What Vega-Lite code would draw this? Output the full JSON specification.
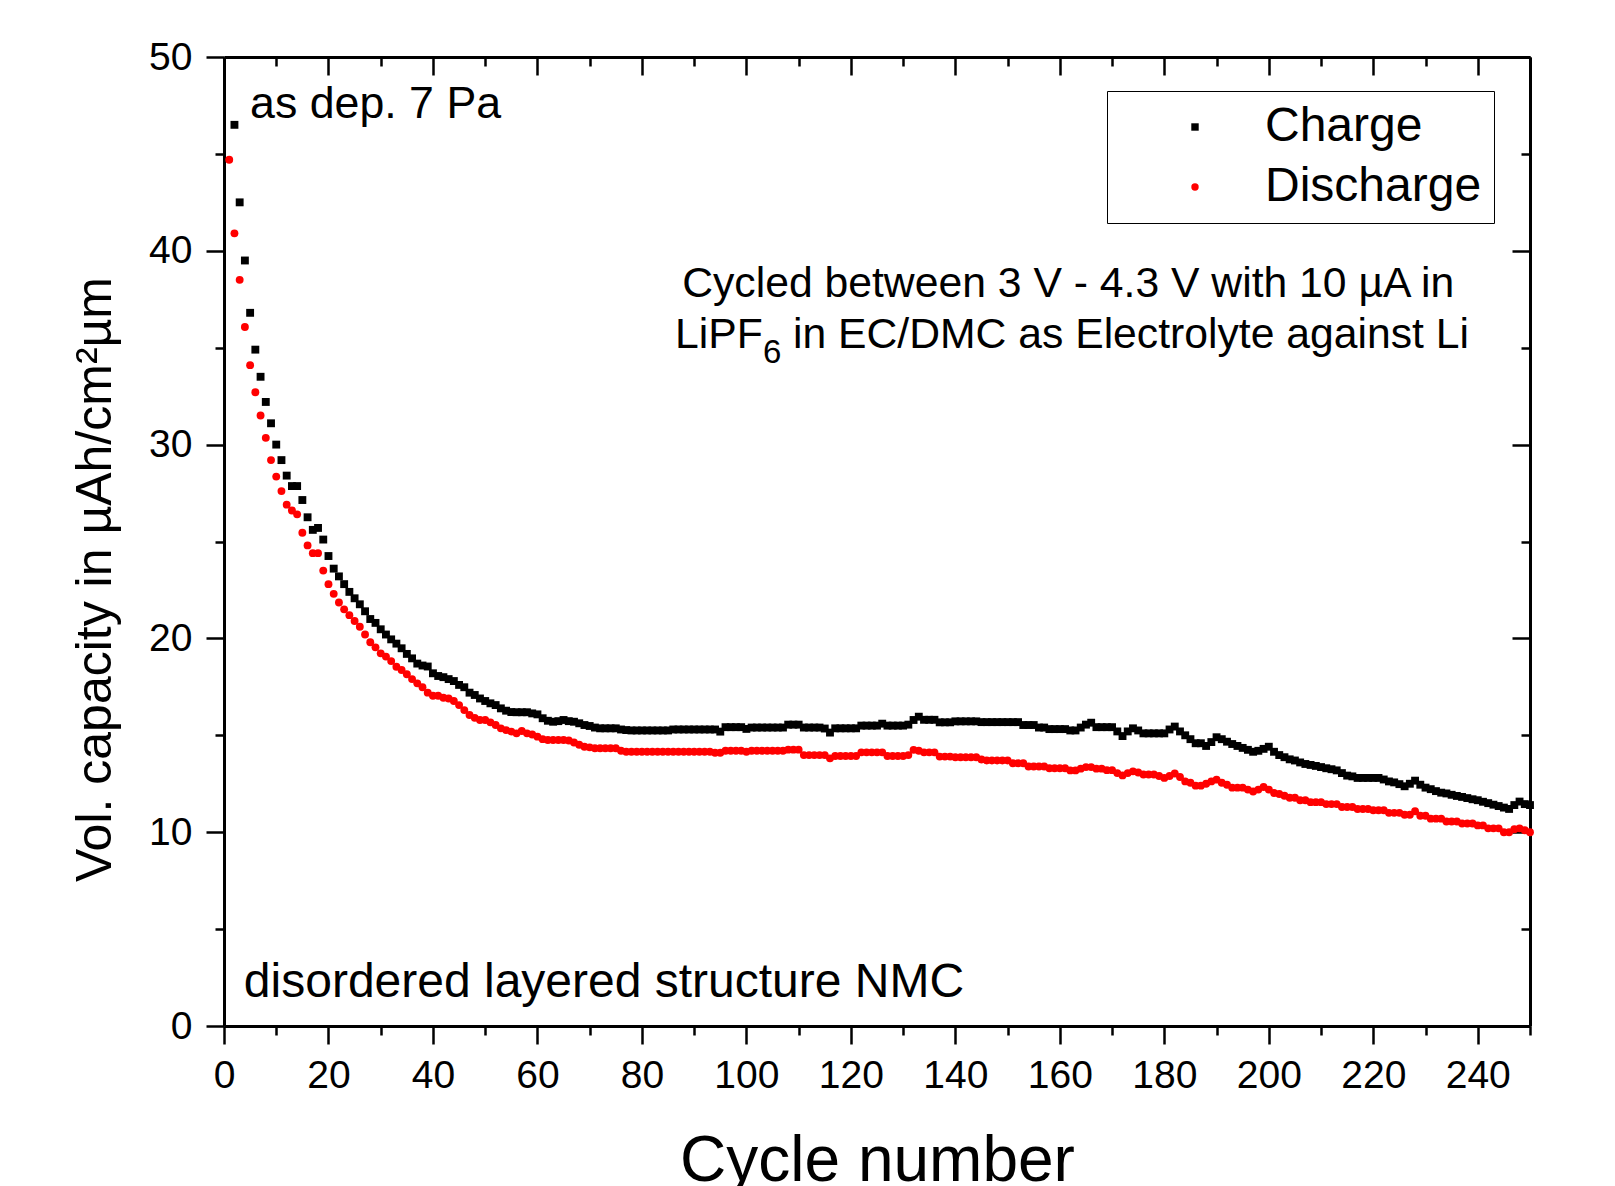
{
"$schema":"https://vega.github.io/schema/vega-lite/v6.json",
"width":1306,"height":969,
"autosize":{"type":"none"},
"padding":{"left":224,"top":57,"right":85,"bottom":160},
"background":"white",
"config":{"view":{"stroke":null},"font":"Liberation Sans","axis":{"grid":false,"labelFont":"Liberation Sans","titleFont":"Liberation Sans"},"text":{"font":"Liberation Sans","color":"black"}},
"data":{"values":[
{"c":1,"Charge":null,"Discharge":44.7},{"c":2,"Charge":46.5,"Discharge":40.9},{"c":3,"Charge":42.5,"Discharge":38.5},{"c":4,"Charge":39.5,"Discharge":36.07},{"c":5,"Charge":36.8,"Discharge":34.1},
{"c":6,"Charge":34.9,"Discharge":32.7},{"c":7,"Charge":33.5,"Discharge":31.5},{"c":8,"Charge":32.2,"Discharge":30.35},{"c":9,"Charge":31.1,"Discharge":29.2},{"c":10,"Charge":30.0,"Discharge":28.35},
{"c":11,"Charge":29.2,"Discharge":27.6},{"c":12,"Charge":28.4,"Discharge":26.9},{"c":13,"Charge":27.86,"Discharge":26.6},{"c":14,"Charge":27.86,"Discharge":26.4},{"c":15,"Charge":27.14,"Discharge":25.45},
{"c":16,"Charge":26.25,"Discharge":24.8},{"c":17,"Charge":25.6,"Discharge":24.4},{"c":18,"Charge":25.7,"Discharge":24.4},{"c":19,"Charge":25.1,"Discharge":23.5},{"c":20,"Charge":24.25,"Discharge":22.8},
{"c":21,"Charge":23.6,"Discharge":22.3},{"c":22,"Charge":23.2,"Discharge":21.85},{"c":23,"Charge":22.8,"Discharge":21.5},{"c":24,"Charge":22.4,"Discharge":21.2},{"c":25,"Charge":22.07,"Discharge":20.9},
{"c":26,"Charge":21.76,"Discharge":20.6},{"c":27,"Charge":21.4,"Discharge":20.2},{"c":28,"Charge":21.0,"Discharge":19.8},{"c":29,"Charge":20.8,"Discharge":19.54},{"c":30,"Charge":20.47,"Discharge":19.23},
{"c":31,"Charge":20.2,"Discharge":19.06},{"c":32,"Charge":19.95,"Discharge":18.83},{"c":33,"Charge":19.73,"Discharge":18.54},{"c":34,"Charge":19.49,"Discharge":18.37},{"c":35,"Charge":19.2,"Discharge":18.15},
{"c":36,"Charge":18.97,"Discharge":17.9},{"c":37,"Charge":18.7,"Discharge":17.68},{"c":38,"Charge":18.6,"Discharge":17.48},{"c":39,"Charge":18.55,"Discharge":17.2},{"c":40,"Charge":18.2,"Discharge":17.04},
{"c":41,"Charge":18.06,"Discharge":17.04},{"c":42,"Charge":18.0,"Discharge":16.94},{"c":43,"Charge":17.9,"Discharge":16.9},{"c":44,"Charge":17.8,"Discharge":16.77},{"c":45,"Charge":17.6,"Discharge":16.56},
{"c":46,"Charge":17.48,"Discharge":16.3},{"c":47,"Charge":17.2,"Discharge":16.05},{"c":48,"Charge":17.08,"Discharge":15.9},{"c":49,"Charge":16.9,"Discharge":15.79},{"c":50,"Charge":16.77,"Discharge":15.79},
{"c":51,"Charge":16.65,"Discharge":15.67},{"c":52,"Charge":16.56,"Discharge":15.53},{"c":53,"Charge":16.39,"Discharge":15.36},{"c":54,"Charge":16.27,"Discharge":15.27},{"c":55,"Charge":16.2,"Discharge":15.19},
{"c":56,"Charge":16.19,"Discharge":15.1},{"c":57,"Charge":16.19,"Discharge":15.22},{"c":58,"Charge":16.19,"Discharge":15.1},{"c":59,"Charge":16.13,"Discharge":15.04},{"c":60,"Charge":16.08,"Discharge":14.93},
{"c":61,"Charge":15.88,"Discharge":14.8},{"c":62,"Charge":15.75,"Discharge":14.76},{"c":63,"Charge":15.7,"Discharge":14.76},{"c":64,"Charge":15.73,"Discharge":14.76},{"c":65,"Charge":15.79,"Discharge":14.76},
{"c":66,"Charge":15.73,"Discharge":14.73},{"c":67,"Charge":15.7,"Discharge":14.63},{"c":68,"Charge":15.62,"Discharge":14.51},{"c":69,"Charge":15.53,"Discharge":14.41},{"c":70,"Charge":15.48,"Discharge":14.38},
{"c":71,"Charge":15.4,"Discharge":14.33},{"c":72,"Charge":15.36,"Discharge":14.33},{"c":73,"Charge":15.36,"Discharge":14.33},{"c":74,"Charge":15.36,"Discharge":14.33},{"c":75,"Charge":15.36,"Discharge":14.33},
{"c":76,"Charge":15.3,"Discharge":14.2},{"c":77,"Charge":15.27,"Discharge":14.15},{"c":78,"Charge":15.25,"Discharge":14.15},{"c":79,"Charge":15.25,"Discharge":14.15},{"c":80,"Charge":15.25,"Discharge":14.15},
{"c":81,"Charge":15.25,"Discharge":14.15},{"c":82,"Charge":15.25,"Discharge":14.15},{"c":83,"Charge":15.25,"Discharge":14.15},{"c":84,"Charge":15.25,"Discharge":14.15},{"c":85,"Charge":15.25,"Discharge":14.15},
{"c":86,"Charge":15.3,"Discharge":14.15},{"c":87,"Charge":15.3,"Discharge":14.15},{"c":88,"Charge":15.3,"Discharge":14.15},{"c":89,"Charge":15.3,"Discharge":14.15},{"c":90,"Charge":15.3,"Discharge":14.15},
{"c":91,"Charge":15.3,"Discharge":14.15},{"c":92,"Charge":15.3,"Discharge":14.15},{"c":93,"Charge":15.3,"Discharge":14.15},{"c":94,"Charge":15.3,"Discharge":14.1},{"c":95,"Charge":15.19,"Discharge":14.1},
{"c":96,"Charge":15.42,"Discharge":14.2},{"c":97,"Charge":15.42,"Discharge":14.2},{"c":98,"Charge":15.42,"Discharge":14.2},{"c":99,"Charge":15.42,"Discharge":14.2},{"c":100,"Charge":15.33,"Discharge":14.15},
{"c":101,"Charge":15.4,"Discharge":14.2},{"c":102,"Charge":15.4,"Discharge":14.2},{"c":103,"Charge":15.4,"Discharge":14.2},{"c":104,"Charge":15.4,"Discharge":14.2},{"c":105,"Charge":15.4,"Discharge":14.2},
{"c":106,"Charge":15.4,"Discharge":14.2},{"c":107,"Charge":15.4,"Discharge":14.2},{"c":108,"Charge":15.55,"Discharge":14.26},{"c":109,"Charge":15.55,"Discharge":14.26},{"c":110,"Charge":15.55,"Discharge":14.26},
{"c":111,"Charge":15.4,"Discharge":13.98},{"c":112,"Charge":15.4,"Discharge":13.98},{"c":113,"Charge":15.4,"Discharge":13.98},{"c":114,"Charge":15.4,"Discharge":13.98},{"c":115,"Charge":15.35,"Discharge":13.98},
{"c":116,"Charge":15.14,"Discharge":13.81},{"c":117,"Charge":15.36,"Discharge":13.93},{"c":118,"Charge":15.36,"Discharge":13.93},{"c":119,"Charge":15.36,"Discharge":13.93},{"c":120,"Charge":15.36,"Discharge":13.93},
{"c":121,"Charge":15.36,"Discharge":13.93},{"c":122,"Charge":15.5,"Discharge":14.12},{"c":123,"Charge":15.5,"Discharge":14.12},{"c":124,"Charge":15.5,"Discharge":14.12},{"c":125,"Charge":15.5,"Discharge":14.12},
{"c":126,"Charge":15.6,"Discharge":14.12},{"c":127,"Charge":15.5,"Discharge":13.93},{"c":128,"Charge":15.5,"Discharge":13.93},{"c":129,"Charge":15.5,"Discharge":13.93},{"c":130,"Charge":15.5,"Discharge":13.93},
{"c":131,"Charge":15.55,"Discharge":13.98},{"c":132,"Charge":15.79,"Discharge":14.25},{"c":133,"Charge":15.96,"Discharge":14.2},{"c":134,"Charge":15.8,"Discharge":14.12},{"c":135,"Charge":15.8,"Discharge":14.12},
{"c":136,"Charge":15.8,"Discharge":14.12},{"c":137,"Charge":15.67,"Discharge":13.9},{"c":138,"Charge":15.67,"Discharge":13.9},{"c":139,"Charge":15.67,"Discharge":13.9},{"c":140,"Charge":15.72,"Discharge":13.87},
{"c":141,"Charge":15.72,"Discharge":13.87},{"c":142,"Charge":15.72,"Discharge":13.87},{"c":143,"Charge":15.72,"Discharge":13.87},{"c":144,"Charge":15.72,"Discharge":13.87},{"c":145,"Charge":15.68,"Discharge":13.75},
{"c":146,"Charge":15.68,"Discharge":13.7},{"c":147,"Charge":15.68,"Discharge":13.7},{"c":148,"Charge":15.68,"Discharge":13.7},{"c":149,"Charge":15.68,"Discharge":13.7},{"c":150,"Charge":15.68,"Discharge":13.7},
{"c":151,"Charge":15.68,"Discharge":13.56},{"c":152,"Charge":15.68,"Discharge":13.56},{"c":153,"Charge":15.53,"Discharge":13.56},{"c":154,"Charge":15.53,"Discharge":13.39},{"c":155,"Charge":15.53,"Discharge":13.39},
{"c":156,"Charge":15.4,"Discharge":13.39},{"c":157,"Charge":15.4,"Discharge":13.39},{"c":158,"Charge":15.32,"Discharge":13.3},{"c":159,"Charge":15.32,"Discharge":13.3},{"c":160,"Charge":15.32,"Discharge":13.3},
{"c":161,"Charge":15.32,"Discharge":13.3},{"c":162,"Charge":15.25,"Discharge":13.19},{"c":163,"Charge":15.25,"Discharge":13.19},{"c":164,"Charge":15.4,"Discharge":13.28},{"c":165,"Charge":15.55,"Discharge":13.36},
{"c":166,"Charge":15.65,"Discharge":13.36},{"c":167,"Charge":15.42,"Discharge":13.28},{"c":168,"Charge":15.42,"Discharge":13.28},{"c":169,"Charge":15.42,"Discharge":13.2},{"c":170,"Charge":15.42,"Discharge":13.2},
{"c":171,"Charge":15.2,"Discharge":13.05},{"c":172,"Charge":14.96,"Discharge":12.93},{"c":173,"Charge":15.2,"Discharge":13.05},{"c":174,"Charge":15.36,"Discharge":13.14},{"c":175,"Charge":15.25,"Discharge":13.08},
{"c":176,"Charge":15.1,"Discharge":12.98},{"c":177,"Charge":15.1,"Discharge":12.98},{"c":178,"Charge":15.1,"Discharge":12.98},{"c":179,"Charge":15.1,"Discharge":12.9},{"c":180,"Charge":15.1,"Discharge":12.8},
{"c":181,"Charge":15.3,"Discharge":12.9},{"c":182,"Charge":15.45,"Discharge":13.03},{"c":183,"Charge":15.2,"Discharge":12.85},{"c":184,"Charge":15.0,"Discharge":12.62},{"c":185,"Charge":14.8,"Discharge":12.55},
{"c":186,"Charge":14.59,"Discharge":12.4},{"c":187,"Charge":14.59,"Discharge":12.4},{"c":188,"Charge":14.45,"Discharge":12.5},{"c":189,"Charge":14.65,"Discharge":12.62},{"c":190,"Charge":14.9,"Discharge":12.71},
{"c":191,"Charge":14.8,"Discharge":12.55},{"c":192,"Charge":14.67,"Discharge":12.45},{"c":193,"Charge":14.55,"Discharge":12.3},{"c":194,"Charge":14.45,"Discharge":12.3},{"c":195,"Charge":14.35,"Discharge":12.3},
{"c":196,"Charge":14.25,"Discharge":12.2},{"c":197,"Charge":14.15,"Discharge":12.1},{"c":198,"Charge":14.2,"Discharge":12.2},{"c":199,"Charge":14.3,"Discharge":12.33},{"c":200,"Charge":14.41,"Discharge":12.2},
{"c":201,"Charge":14.15,"Discharge":12.02},{"c":202,"Charge":13.98,"Discharge":11.97},{"c":203,"Charge":13.87,"Discharge":11.88},{"c":204,"Charge":13.76,"Discharge":11.78},{"c":205,"Charge":13.7,"Discharge":11.78},
{"c":206,"Charge":13.6,"Discharge":11.65},{"c":207,"Charge":13.52,"Discharge":11.65},{"c":208,"Charge":13.47,"Discharge":11.55},{"c":209,"Charge":13.42,"Discharge":11.55},{"c":210,"Charge":13.36,"Discharge":11.55},
{"c":211,"Charge":13.3,"Discharge":11.45},{"c":212,"Charge":13.25,"Discharge":11.45},{"c":213,"Charge":13.19,"Discharge":11.45},{"c":214,"Charge":13.05,"Discharge":11.3},{"c":215,"Charge":12.92,"Discharge":11.3},
{"c":216,"Charge":12.88,"Discharge":11.3},{"c":217,"Charge":12.8,"Discharge":11.2},{"c":218,"Charge":12.8,"Discharge":11.2},{"c":219,"Charge":12.8,"Discharge":11.2},{"c":220,"Charge":12.8,"Discharge":11.13},
{"c":221,"Charge":12.8,"Discharge":11.13},{"c":222,"Charge":12.72,"Discharge":11.13},{"c":223,"Charge":12.62,"Discharge":11.0},{"c":224,"Charge":12.57,"Discharge":11.0},{"c":225,"Charge":12.48,"Discharge":11.0},
{"c":226,"Charge":12.37,"Discharge":10.9},{"c":227,"Charge":12.5,"Discharge":10.9},{"c":228,"Charge":12.66,"Discharge":11.08},{"c":229,"Charge":12.45,"Discharge":10.85},{"c":230,"Charge":12.3,"Discharge":10.85},
{"c":231,"Charge":12.22,"Discharge":10.7},{"c":232,"Charge":12.12,"Discharge":10.7},{"c":233,"Charge":12.04,"Discharge":10.7},{"c":234,"Charge":12.0,"Discharge":10.55},{"c":235,"Charge":11.93,"Discharge":10.55},
{"c":236,"Charge":11.87,"Discharge":10.55},{"c":237,"Charge":11.82,"Discharge":10.45},{"c":238,"Charge":11.76,"Discharge":10.45},{"c":239,"Charge":11.7,"Discharge":10.45},{"c":240,"Charge":11.65,"Discharge":10.35},
{"c":241,"Charge":11.57,"Discharge":10.35},{"c":242,"Charge":11.5,"Discharge":10.2},{"c":243,"Charge":11.42,"Discharge":10.2},{"c":244,"Charge":11.35,"Discharge":10.2},{"c":245,"Charge":11.27,"Discharge":10.0},
{"c":246,"Charge":11.2,"Discharge":10.0},{"c":247,"Charge":11.4,"Discharge":10.15},{"c":248,"Charge":11.58,"Discharge":10.2},{"c":249,"Charge":11.45,"Discharge":10.1},{"c":250,"Charge":11.4,"Discharge":10.0}
]},
"resolve":{"axis":{"x":"independent","y":"independent"}},
"layer":[
{"transform":[{"fold":["Charge","Discharge"],"as":["series","value"]},{"filter":"isValid(datum.value)"}],
 "mark":{"type":"point","filled":true,"size":62,"opacity":1},
 "encoding":{
  "x":{"field":"c","type":"quantitative","scale":{"domain":[0,250],"nice":false,"zero":false},
   "axis":{"orient":"bottom","values":[0,10,20,30,40,50,60,70,80,90,100,110,120,130,140,150,160,170,180,190,200,210,220,230,240,250],
    "labelExpr":"datum.value % 20 === 0 ? datum.label : ''","labelOverlap":false,"labelFlush":false,"labelBound":false,
    "tickSize":{"condition":{"test":"datum.value % 20 === 0","value":18},"value":9},"tickWidth":2.5,"tickColor":"black",
    "domainColor":"black","domainWidth":3,"labelFontSize":39,"labelColor":"black","labelPadding":12,
    "title":"Cycle number","titleFontSize":64,"titleFontWeight":"normal","titleColor":"black","titleX":653,"titleY":154,"titleBaseline":"alphabetic","titleAlign":"center","titleAnchor":null}},
  "y":{"field":"value","type":"quantitative","scale":{"domain":[0,50],"nice":false},
   "axis":{"orient":"left","values":[0,5,10,15,20,25,30,35,40,45,50],
    "labelExpr":"datum.value % 10 === 0 ? datum.label : ''","labelOverlap":false,"labelFlush":false,"labelBound":false,
    "tickSize":{"condition":{"test":"datum.value % 10 === 0","value":18},"value":9},"tickWidth":2.5,"tickColor":"black",
    "domainColor":"black","domainWidth":3,"labelFontSize":39,"labelColor":"black","labelPadding":14,
    "title":"Vol. capacity in µAh/cm²µm","titleFontSize":50,"titleFontWeight":"normal","titleColor":"black","titleAngle":-90,"titleX":-114,"titleY":522,"titleBaseline":"alphabetic","titleAlign":"center","titleAnchor":null}},
  "color":{"field":"series","type":"nominal","scale":{"domain":["Charge","Discharge"],"range":["#000000","#ff0000"]},
   "legend":{"orient":"none","legendX":883,"legendY":34,"title":null,"strokeColor":"black","fillColor":"white","padding":12,"labelFontSize":48,"labelColor":"black","labelFont":"Liberation Sans","labelLimit":0,"symbolSize":55,"symbolOffset":52,"labelOffset":46,"rowPadding":12,"symbolStrokeWidth":0}},
  "shape":{"field":"series","type":"nominal","scale":{"domain":["Charge","Discharge"],"range":["square","circle"]}}
 }},
{"transform":[{"fold":["Charge","Discharge"],"as":["series","value"]},{"filter":"isValid(datum.value)"}],
 "mark":{"type":"point","opacity":0},
 "encoding":{
  "x":{"field":"c","type":"quantitative",
   "axis":{"orient":"top","values":[0,10,20,30,40,50,60,70,80,90,100,110,120,130,140,150,160,170,180,190,200,210,220,230,240,250],"labels":false,"title":null,
    "tickSize":{"condition":{"test":"datum.value % 20 === 0","value":-18},"value":-9},"tickWidth":2.5,"tickColor":"black","domainColor":"black","domainWidth":3}},
  "y":{"field":"value","type":"quantitative",
   "axis":{"orient":"right","values":[0,5,10,15,20,25,30,35,40,45,50],"labels":false,"title":null,
    "tickSize":{"condition":{"test":"datum.value % 10 === 0","value":-18},"value":-9},"tickWidth":2.5,"tickColor":"black","domainColor":"black","domainWidth":3}}
 }},
{"data":{"values":[{}]},"mark":{"type":"text","text":"as dep. 7 Pa","align":"left","baseline":"alphabetic","fontSize":44.7},
 "encoding":{"x":{"datum":5,"type":"quantitative","axis":null},"y":{"datum":46.85,"type":"quantitative","axis":null}}},
{"data":{"values":[{}]},"mark":{"type":"text","text":"disordered layered structure NMC","align":"left","baseline":"alphabetic","fontSize":48},
 "encoding":{"x":{"datum":3.8,"type":"quantitative","axis":null},"y":{"datum":1.5,"type":"quantitative","axis":null}}},
{"data":{"values":[{}]},"mark":{"type":"text","text":"Cycled between 3 V - 4.3 V with 10 µA in","align":"center","baseline":"alphabetic","fontSize":42.7},
 "encoding":{"x":{"datum":161.6,"type":"quantitative","axis":null},"y":{"datum":37.6,"type":"quantitative","axis":null}}},
{"data":{"values":[{}]},"mark":{"type":"text","text":"LiPF","align":"left","baseline":"alphabetic","fontSize":42.7},
 "encoding":{"x":{"datum":86.33,"type":"quantitative","axis":null},"y":{"datum":35.0,"type":"quantitative","axis":null}}},
{"data":{"values":[{}]},"mark":{"type":"text","text":"6","align":"left","baseline":"alphabetic","fontSize":33},
 "encoding":{"x":{"datum":103.2,"type":"quantitative","axis":null},"y":{"datum":34.2,"type":"quantitative","axis":null}}},
{"data":{"values":[{}]},"mark":{"type":"text","text":"in EC/DMC as Electrolyte against Li","align":"left","baseline":"alphabetic","fontSize":42.7},
 "encoding":{"x":{"datum":108.9,"type":"quantitative","axis":null},"y":{"datum":35.0,"type":"quantitative","axis":null}}}
]
}
